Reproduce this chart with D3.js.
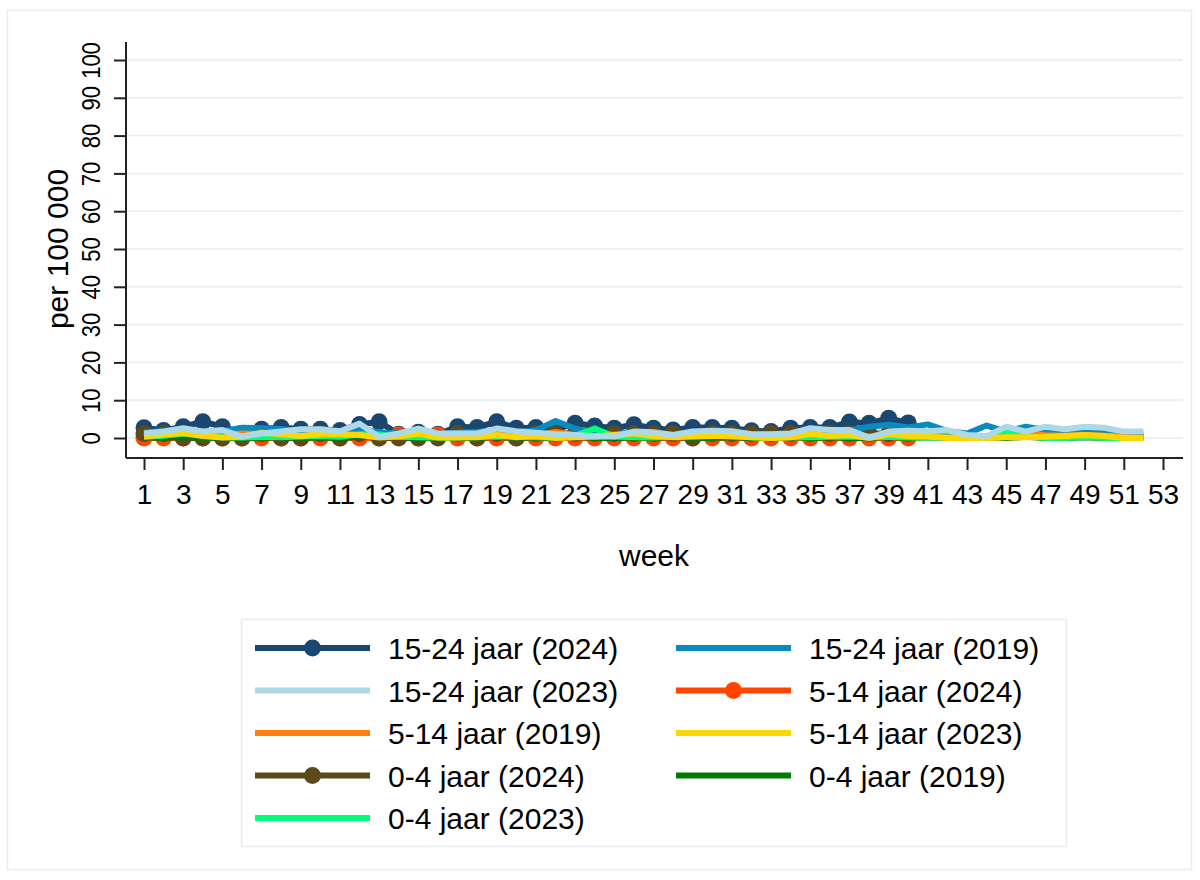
<!DOCTYPE html>
<html>
<head>
<meta charset="utf-8">
<script src="https://cdn.jsdelivr.net/npm/d3@7"></script>
<style>
  html, body { margin: 0; padding: 0; background: #fff; }
  svg { display: block; font-family: "Liberation Sans", Arial, sans-serif; }
</style>
</head>
<body>
<svg id="chart" width="1200" height="880"></svg>
<script>
// Weekly rates per 100 000, by age group and season
const weeks = d3.range(1, 53);          // 1..52
const weeks2024 = d3.range(1, 41);      // 1..40 (current year so far)
const xTicks = d3.range(1, 54, 2);      // 1,3,...,53
const yTicks = d3.range(0, 101, 10);

const age15_24_2024 = [2.7, 2.0, 3.0, 4.3, 3.0, 1.2, 2.3, 2.8, 2.3, 2.3, 2.0, 3.6, 4.3, 1.0, 1.5, 1.0, 3.0, 2.8, 4.3, 2.6,
                       2.8, 2.2, 3.9, 3.2, 2.6, 3.5, 2.6, 2.1, 2.8, 2.8, 2.6, 1.9, 1.7, 2.6, 2.8, 2.8, 4.2, 3.9, 5.2, 4.0];
const age15_24_2019 = [1.5, 1.8, 2.0, 1.5, 1.8, 2.7, 2.6, 2.4, 1.8, 2.0, 1.8, 2.5, 1.5, 1.2, 1.8, 1.0, 1.4, 1.6, 2.0, 1.5,
                       2.0, 4.5, 2.5, 1.2, 1.0, 1.5, 1.2, 0.8, 1.5, 1.6, 1.5, 0.8, 1.0, 1.0, 2.0, 1.8, 2.0, 3.0, 3.5, 2.8,
                       3.6, 1.8, 1.2, 3.3, 1.7, 3.0, 2.1, 1.8, 1.7, 1.4, 1.0, 1.0];
const age15_24_2023 = [1.2, 1.7, 2.6, 1.7, 2.1, 0.4, 1.2, 1.7, 2.3, 2.3, 1.8, 3.8, 0.3, 1.2, 2.5, 1.2, 1.2, 1.2, 2.5, 1.8,
                       1.4, 1.0, 0.8, 0.4, 0.4, 1.7, 1.5, 0.8, 1.7, 1.9, 1.8, 1.0, 1.0, 1.2, 2.6, 2.1, 2.1, 0.1, 1.7, 1.9,
                       1.8, 2.1, 0.8, 0.5, 3.0, 1.7, 3.0, 2.3, 3.0, 2.7, 1.7, 1.7];
const age5_14_2024 = [0, 0, 0, 0, 0, 0, 0, 0, 0, 0, 0, 0, 0, 0.8, 0, 0.8, 0, 0, 0, 0,
                      0, 0, 0, 0, 0, 0, 0, 0, 0, 0, 0, 0, 0, 0, 0, 0, 0, 0, 0, 0];
const age5_14_2019 = [0.5, 0.6, 0.8, 0.5, 0.8, 1.2, 1.0, 0.6, 0.5, 0.8, 0.6, 0.8, 0.4, 0.5, 0.8, 0.4, 0.5, 0.6, 0.8, 0.5,
                      0.6, 1.6, 0.8, 0.5, 0.4, 0.6, 0.5, 0.4, 0.5, 0.6, 0.5, 0.4, 0.5, 0.4, 0.6, 0.5, 0.6, 0.4, 0.6, 0.5,
                      0.6, 0.5, 0.4, 0.5, 0.8, 1.3, 0.7, 0.6, 0.8, 0.6, 0.4, 0.3];
const age5_14_2023 = [0.4, 0.9, 1.3, 0.5, 0.1, 0.3, 1.4, 1.0, 0.5, 1.0, 1.0, 0.8, 0.1, 0.4, 1.2, 0.1, 0.1, 0.2, 0.8, 0.2,
                      0.5, 0.0, 0.2, 0.4, 0.8, 1.2, 0.5, 0.2, 0.4, 0.5, 0.5, 0.2, 0.0, 0.2, 1.1, 0.5, 0.8, 0.0, 1.0, 0.5,
                      0.4, 0.0, 0.0, 0.0, 0.2, 0.2, 0.3, 0.5, 0.8, 0.5, 0.0, 0.0];
const age0_4_2024 = [1.2, 1.2, 0, 0, 0, 0, 1.2, 0, 0, 1.2, 0, 1.2, 0, 0, 0, 0, 1.2, 0, 1.2, 0,
                     1.2, 1.2, 1.2, 1.2, 1.2, 1.2, 1.2, 1.2, 0, 1.2, 1.2, 1.2, 1.2, 1.2, 1.2, 1.2, 1.2, 1.2, 1.2, 1.2];
const age0_4_2019 = [0.2, 0.0, 0.3, 0.0, 0.2, 0.0, 0.0, 0.3, 0.0, 0.2, 0.0, 0.3, 0.5, 0.3, 0.0, 0.2, 0.0, 0.0, 0.3, 0.0,
                     0.2, 0.0, 0.3, 0.0, 0.0, 0.2, 0.0, 0.3, 0.0, 0.0, 0.2, 0.0, 0.0, 0.3, 0.0, 0.2, 0.0, 0.0, 0.3, 0.0,
                     0.2, 0.0, 0.0, 0.2, 0.0, 0.3, 0.0, 0.0, 0.2, 0.0, 0.0, 0.2];
const age0_4_2023 = [0.3, 0.6, 1.2, 0.8, 0.2, 0.1, 0.3, 0.2, 0.4, 0.5, 0.3, 1.0, 0.9, 0.3, 0.2, 0.1, 0.2, 0.4, 0.3, 0.5,
                     0.2, 0.2, 0.6, 2.5, 0.4, 0.2, 0.1, 0.5, 0.8, 0.6, 0.4, 0.2, 0.1, 0.2, 0.2, 0.3, 0.4, 0.2, 0.3, 0.1,
                     0.2, 0.1, 0.0, 0.2, 1.8, 0.6, 0.0, 0.0, 0.3, 0.0, 0.0, 0.0];

// Legend order
const series = [
  { label: "15-24 jaar (2024)", x: weeks2024, y: age15_24_2024, color: "#1a476f", marker: true },
  { label: "15-24 jaar (2019)", x: weeks,     y: age15_24_2019, color: "#0a8bc0", marker: false },
  { label: "15-24 jaar (2023)", x: weeks,     y: age15_24_2023, color: "#add8e6", marker: false },
  { label: "5-14 jaar (2024)",  x: weeks2024, y: age5_14_2024,  color: "#ff4500", marker: true },
  { label: "5-14 jaar (2019)",  x: weeks,     y: age5_14_2019,  color: "#ff7f0e", marker: false },
  { label: "5-14 jaar (2023)",  x: weeks,     y: age5_14_2023,  color: "#ffd700", marker: false },
  { label: "0-4 jaar (2024)",   x: weeks2024, y: age0_4_2024,   color: "#5c4a1c", marker: true },
  { label: "0-4 jaar (2019)",   x: weeks,     y: age0_4_2019,   color: "#007a00", marker: false },
  { label: "0-4 jaar (2023)",   x: weeks,     y: age0_4_2023,   color: "#00ff7f", marker: false }
];
// Drawing order: 2024 (with markers) at the back, then 2019, then 2023 on top
const drawOrder = [0, 3, 6, 1, 4, 7, 8, 5, 2];

const svg = d3.select("#chart");
const TICK_FONT = 28;
const TITLE_FONT = 30;
const LW = 6;
const R = 8.5;

// outer frame
svg.append("rect").attr("x", 7.5).attr("y", 10.5).attr("width", 1184).attr("height", 859)
  .attr("fill", "#fff").attr("stroke", "#e4ecf0").attr("stroke-width", 1.5);

const xAxisY = 458, yAxisX = 126, plotRight = 1183, plotTop = 42;
const x = d3.scaleLinear().domain([1, 53]).range([144, 1163]);
const y = d3.scaleLinear().domain([0, 100]).range([438, 60]);

// gridlines
svg.append("g").selectAll("line").data(yTicks).join("line")
  .attr("x1", yAxisX + 1).attr("x2", plotRight)
  .attr("y1", d => y(d)).attr("y2", d => y(d))
  .attr("stroke", "#e9f1f3").attr("stroke-width", 2);

// series
const line = d3.line().x(d => x(d[0])).y(d => y(d[1]));
const gSeries = svg.append("g");
drawOrder.forEach(k => {
  const s = series[k];
  const pts = s.x.map((w, i) => [w, s.y[i]]);
  const g = gSeries.append("g");
  g.append("path").attr("d", line(pts)).attr("fill", "none")
    .attr("stroke", s.color).attr("stroke-width", LW).attr("stroke-linejoin", "round");
  if (s.marker) {
    g.selectAll("circle").data(pts).join("circle")
      .attr("cx", d => x(d[0])).attr("cy", d => y(d[1])).attr("r", R).attr("fill", s.color);
  }
});

// y axis (labels rotated, slightly condensed along the reading direction)
const yAxis = d3.axisLeft(y).tickValues(yTicks).tickSize(12).tickPadding(0).tickFormat(d3.format("d"));
const gy = svg.append("g").attr("transform", `translate(${yAxisX},0)`).call(yAxis)
  .attr("font-size", null).attr("font-family", null);
gy.select(".domain").attr("d", `M0,${plotTop}V${xAxisY}`).attr("stroke", "#222").attr("stroke-width", 2);
gy.selectAll(".tick line").attr("stroke", "#222").attr("stroke-width", 2);
gy.selectAll(".tick text")
  .attr("x", null).attr("dy", null)
  .attr("text-anchor", "middle")
  .attr("transform", "translate(-26,0) rotate(-90) scale(0.88,1)")
  .style("font-size", "25px")
  .style("font-family", "'Liberation Sans', Arial, sans-serif")
  .attr("fill", "#000");

// x axis
const xAxis = d3.axisBottom(x).tickValues(xTicks).tickSize(12).tickPadding(14).tickFormat(d3.format("d"));
const gx = svg.append("g").attr("transform", `translate(0,${xAxisY})`).call(xAxis)
  .attr("font-size", null).attr("font-family", null);
gx.select(".domain").attr("d", `M${yAxisX},0H${plotRight}`).attr("stroke", "#222").attr("stroke-width", 2);
gx.selectAll(".tick line").attr("stroke", "#222").attr("stroke-width", 2);
gx.selectAll(".tick text").style("font-size", TICK_FONT + "px").attr("fill", "#000")
  .style("font-family", "'Liberation Sans', Arial, sans-serif");

// axis titles
svg.append("text").attr("x", 654).attr("y", 566).attr("text-anchor", "middle")
  .attr("font-size", TITLE_FONT).attr("fill", "#000").text("week");
svg.append("text").attr("transform", "translate(68,249) rotate(-90)").attr("text-anchor", "middle")
  .attr("font-size", TITLE_FONT).attr("fill", "#000").text("per 100 000");

// legend
const lg = svg.append("g");
lg.append("rect").attr("x", 241.5).attr("y", 619.5).attr("width", 825).attr("height", 227)
  .attr("fill", "#fff").attr("stroke", "#e4ecf0").attr("stroke-width", 1.5);
const colX = [255, 676];
const rowY0 = 648, rowStep = 42.5;
series.forEach((s, i) => {
  const cx = colX[i % 2], cy = rowY0 + Math.floor(i / 2) * rowStep;
  lg.append("line").attr("x1", cx).attr("x2", cx + 115).attr("y1", cy).attr("y2", cy)
    .attr("stroke", s.color).attr("stroke-width", LW);
  if (s.marker) lg.append("circle").attr("cx", cx + 57.5).attr("cy", cy).attr("r", R).attr("fill", s.color);
  lg.append("text").attr("x", cx + 133).attr("y", cy + 11).attr("font-size", TITLE_FONT).attr("fill", "#000").text(s.label);
});
</script>
</body>
</html>
